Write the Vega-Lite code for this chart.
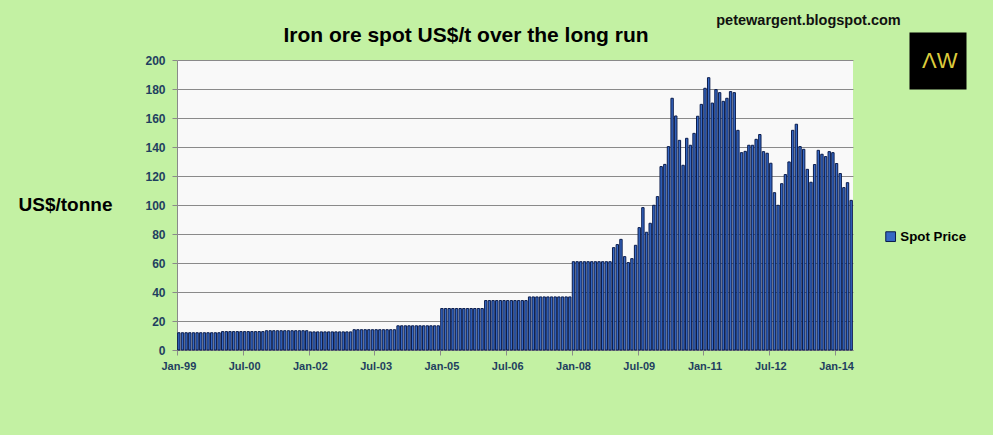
{
  "$schema": "https://vega.github.io/schema/vega-lite/v6.json",
  "width": 676,
  "height": 290,
  "autosize": "none",
  "padding": {"left": 177, "top": 60, "right": 140, "bottom": 85},
  "background": "#c3f1a3",
  "view": {"fill": "#f9f9f9", "stroke": null},
  "title": {
    "text": "Iron ore spot US$/t over the long run",
    "anchor": "middle",
    "frame": "group",
    "dx": -49,
    "offset": -51,
    "baseline": "alphabetic",
    "font": "Liberation Sans",
    "fontSize": 21,
    "fontWeight": "bold",
    "color": "#000000"
  },
  "layer": [
    {
      "data": {
        "values": [
          {"m": "Jan-99", "p": 11.9}, {"m": "Feb-99", "p": 11.9}, {"m": "Mar-99", "p": 11.9}, {"m": "Apr-99", "p": 11.9},
          {"m": "May-99", "p": 11.9}, {"m": "Jun-99", "p": 11.9}, {"m": "Jul-99", "p": 11.9}, {"m": "Aug-99", "p": 11.9},
          {"m": "Sep-99", "p": 11.9}, {"m": "Oct-99", "p": 11.9}, {"m": "Nov-99", "p": 11.9}, {"m": "Dec-99", "p": 11.9},
          {"m": "Jan-00", "p": 12.7}, {"m": "Feb-00", "p": 12.7}, {"m": "Mar-00", "p": 12.7}, {"m": "Apr-00", "p": 12.7},
          {"m": "May-00", "p": 12.7}, {"m": "Jun-00", "p": 12.7}, {"m": "Jul-00", "p": 12.7}, {"m": "Aug-00", "p": 12.7},
          {"m": "Sep-00", "p": 12.7}, {"m": "Oct-00", "p": 12.7}, {"m": "Nov-00", "p": 12.7}, {"m": "Dec-00", "p": 12.7},
          {"m": "Jan-01", "p": 13.3}, {"m": "Feb-01", "p": 13.3}, {"m": "Mar-01", "p": 13.3}, {"m": "Apr-01", "p": 13.3},
          {"m": "May-01", "p": 13.3}, {"m": "Jun-01", "p": 13.3}, {"m": "Jul-01", "p": 13.3}, {"m": "Aug-01", "p": 13.3},
          {"m": "Sep-01", "p": 13.3}, {"m": "Oct-01", "p": 13.3}, {"m": "Nov-01", "p": 13.3}, {"m": "Dec-01", "p": 13.3},
          {"m": "Jan-02", "p": 12.5}, {"m": "Feb-02", "p": 12.5}, {"m": "Mar-02", "p": 12.5}, {"m": "Apr-02", "p": 12.5},
          {"m": "May-02", "p": 12.5}, {"m": "Jun-02", "p": 12.5}, {"m": "Jul-02", "p": 12.5}, {"m": "Aug-02", "p": 12.5},
          {"m": "Sep-02", "p": 12.5}, {"m": "Oct-02", "p": 12.5}, {"m": "Nov-02", "p": 12.5}, {"m": "Dec-02", "p": 12.5},
          {"m": "Jan-03", "p": 14.0}, {"m": "Feb-03", "p": 14.0}, {"m": "Mar-03", "p": 14.0}, {"m": "Apr-03", "p": 14.0},
          {"m": "May-03", "p": 14.0}, {"m": "Jun-03", "p": 14.0}, {"m": "Jul-03", "p": 14.0}, {"m": "Aug-03", "p": 14.0},
          {"m": "Sep-03", "p": 14.0}, {"m": "Oct-03", "p": 14.0}, {"m": "Nov-03", "p": 14.0}, {"m": "Dec-03", "p": 14.0},
          {"m": "Jan-04", "p": 16.7}, {"m": "Feb-04", "p": 16.7}, {"m": "Mar-04", "p": 16.7}, {"m": "Apr-04", "p": 16.7},
          {"m": "May-04", "p": 16.7}, {"m": "Jun-04", "p": 16.7}, {"m": "Jul-04", "p": 16.7}, {"m": "Aug-04", "p": 16.7},
          {"m": "Sep-04", "p": 16.7}, {"m": "Oct-04", "p": 16.7}, {"m": "Nov-04", "p": 16.7}, {"m": "Dec-04", "p": 16.7},
          {"m": "Jan-05", "p": 28.6}, {"m": "Feb-05", "p": 28.6}, {"m": "Mar-05", "p": 28.6}, {"m": "Apr-05", "p": 28.6},
          {"m": "May-05", "p": 28.6}, {"m": "Jun-05", "p": 28.6}, {"m": "Jul-05", "p": 28.6}, {"m": "Aug-05", "p": 28.6},
          {"m": "Sep-05", "p": 28.6}, {"m": "Oct-05", "p": 28.6}, {"m": "Nov-05", "p": 28.6}, {"m": "Dec-05", "p": 28.6},
          {"m": "Jan-06", "p": 34.1}, {"m": "Feb-06", "p": 34.1}, {"m": "Mar-06", "p": 34.1}, {"m": "Apr-06", "p": 34.1},
          {"m": "May-06", "p": 34.1}, {"m": "Jun-06", "p": 34.1}, {"m": "Jul-06", "p": 34.1}, {"m": "Aug-06", "p": 34.1},
          {"m": "Sep-06", "p": 34.1}, {"m": "Oct-06", "p": 34.1}, {"m": "Nov-06", "p": 34.1}, {"m": "Dec-06", "p": 34.1},
          {"m": "Jan-07", "p": 36.6}, {"m": "Feb-07", "p": 36.6}, {"m": "Mar-07", "p": 36.6}, {"m": "Apr-07", "p": 36.6},
          {"m": "May-07", "p": 36.6}, {"m": "Jun-07", "p": 36.6}, {"m": "Jul-07", "p": 36.6}, {"m": "Aug-07", "p": 36.6},
          {"m": "Sep-07", "p": 36.6}, {"m": "Oct-07", "p": 36.6}, {"m": "Nov-07", "p": 36.6}, {"m": "Dec-07", "p": 36.6},
          {"m": "Jan-08", "p": 60.9}, {"m": "Feb-08", "p": 60.9}, {"m": "Mar-08", "p": 60.9}, {"m": "Apr-08", "p": 60.9},
          {"m": "May-08", "p": 60.9}, {"m": "Jun-08", "p": 60.9}, {"m": "Jul-08", "p": 60.9}, {"m": "Aug-08", "p": 60.9},
          {"m": "Sep-08", "p": 60.9}, {"m": "Oct-08", "p": 60.9}, {"m": "Nov-08", "p": 60.9}, {"m": "Dec-08", "p": 70.6},
          {"m": "Jan-09", "p": 72.7}, {"m": "Feb-09", "p": 76.3}, {"m": "Mar-09", "p": 64.4}, {"m": "Apr-09", "p": 60.3},
          {"m": "May-09", "p": 63.0}, {"m": "Jun-09", "p": 72.2}, {"m": "Jul-09", "p": 84.4}, {"m": "Aug-09", "p": 98.2},
          {"m": "Sep-09", "p": 81.2}, {"m": "Oct-09", "p": 87.4}, {"m": "Nov-09", "p": 99.8}, {"m": "Dec-09", "p": 105.8},
          {"m": "Jan-10", "p": 126.5}, {"m": "Feb-10", "p": 128.0}, {"m": "Mar-10", "p": 140.3}, {"m": "Apr-10", "p": 173.6},
          {"m": "May-10", "p": 161.4}, {"m": "Jun-10", "p": 144.6}, {"m": "Jul-10", "p": 127.4}, {"m": "Aug-10", "p": 146.0},
          {"m": "Sep-10", "p": 141.2}, {"m": "Oct-10", "p": 149.4}, {"m": "Nov-10", "p": 161.2}, {"m": "Dec-10", "p": 169.4},
          {"m": "Jan-11", "p": 180.5}, {"m": "Feb-11", "p": 187.8}, {"m": "Mar-11", "p": 170.3}, {"m": "Apr-11", "p": 179.6},
          {"m": "May-11", "p": 177.5}, {"m": "Jun-11", "p": 171.5}, {"m": "Jul-11", "p": 173.6}, {"m": "Aug-11", "p": 178.2},
          {"m": "Sep-11", "p": 177.5}, {"m": "Oct-11", "p": 151.5}, {"m": "Nov-11", "p": 136.1}, {"m": "Dec-11", "p": 137.0},
          {"m": "Jan-12", "p": 141.2}, {"m": "Feb-12", "p": 141.2}, {"m": "Mar-12", "p": 145.3}, {"m": "Apr-12", "p": 148.6},
          {"m": "May-12", "p": 136.8}, {"m": "Jun-12", "p": 135.7}, {"m": "Jul-12", "p": 128.8}, {"m": "Aug-12", "p": 108.5},
          {"m": "Sep-12", "p": 99.8}, {"m": "Oct-12", "p": 114.7}, {"m": "Nov-12", "p": 121.0}, {"m": "Dec-12", "p": 129.7},
          {"m": "Jan-13", "p": 151.5}, {"m": "Feb-13", "p": 155.7}, {"m": "Mar-13", "p": 140.3}, {"m": "Apr-13", "p": 138.4},
          {"m": "May-13", "p": 124.6}, {"m": "Jun-13", "p": 115.7}, {"m": "Jul-13", "p": 127.9}, {"m": "Aug-13", "p": 137.7},
          {"m": "Sep-13", "p": 135.0}, {"m": "Oct-13", "p": 133.4}, {"m": "Nov-13", "p": 136.8}, {"m": "Dec-13", "p": 136.1},
          {"m": "Jan-14", "p": 128.6}, {"m": "Feb-14", "p": 121.7}, {"m": "Mar-14", "p": 112.0}, {"m": "Apr-14", "p": 115.4},
          {"m": "May-14", "p": 103.2}
        ]
      },
      "mark": {"type": "bar", "stroke": "#0a1c4c", "strokeWidth": 1},
      "encoding": {
        "x": {
          "field": "m",
          "type": "ordinal",
          "sort": null,
          "scale": {"paddingInner": 0.35, "paddingOuter": 0.175},
          "axis": {
            "values": ["Jan-99", "Jul-00", "Jan-02", "Jul-03", "Jan-05", "Jul-06", "Jan-08", "Jul-09", "Jan-11", "Jul-12", "Jan-14"],
            "bandPosition": 0,
            "labelAngle": 0,
            "labelFontSize": 11,
            "labelPadding": 5,
            "tickSize": 5,
            "grid": false,
            "title": "petewargent.blogspot.com",
            "titleX": 631,
            "titleY": -330,
            "titleAlign": "center",
            "titleBaseline": "middle",
            "titleFontSize": 14.5,
            "titleColor": "#111111"
          }
        },
        "y": {
          "field": "p",
          "type": "quantitative",
          "scale": {"domain": [0, 200], "nice": false},
          "axis": {
            "values": [0, 20, 40, 60, 80, 100, 120, 140, 160, 180, 200],
            "labelFontSize": 12,
            "labelPadding": 7,
            "tickSize": 5,
            "title": "US$/tonne",
            "titleAngle": 0,
            "titleX": -112,
            "titleY": 144,
            "titleAlign": "center",
            "titleBaseline": "middle",
            "titleFontSize": 19,
            "titleColor": "#000000"
          }
        },
        "color": {
          "datum": "Spot Price",
          "type": "nominal",
          "scale": {"range": ["#3567c4"]},
          "legend": {
            "orient": "none",
            "legendX": 707,
            "legendY": 170,
            "title": null,
            "padding": 0,
            "symbolType": "square",
            "symbolSize": 95,
            "symbolStrokeColor": "#0a1c4c",
            "symbolStrokeWidth": 1,
            "labelFontSize": 13.3,
            "labelFontWeight": "bold",
            "labelColor": "#000000",
            "labelOffset": 3
          }
        }
      }
    },
    {
      "data": {"values": [{"logo": "ΛW"}]},
      "mark": {"type": "text", "text": ""},
      "encoding": {
        "color": {
          "field": "logo",
          "type": "nominal",
          "scale": {"range": ["#000000"]},
          "legend": {
            "orient": "none",
            "legendX": 732,
            "legendY": -28,
            "title": null,
            "padding": 0,
            "symbolType": "square",
            "symbolSize": 3250,
            "symbolStrokeWidth": 0,
            "labelOffset": -45,
            "labelFontSize": 22,
            "labelColor": "#dccb3c"
          }
        }
      }
    }
  ],
  "resolve": {"scale": {"color": "independent"}},
  "config": {
    "font": "Liberation Sans",
    "view": {"stroke": null, "fill": "#f9f9f9"},
    "axis": {
      "labelFont": "Liberation Sans",
      "labelFontWeight": "bold",
      "labelColor": "#1f3f60",
      "titleFont": "Liberation Sans",
      "titleFontWeight": "bold",
      "domainColor": "#8a8a8a",
      "tickColor": "#8a8a8a",
      "gridColor": "#8a8a8a",
      "gridOpacity": 1
    },
    "legend": {"labelFont": "Liberation Sans"}
  }
}
